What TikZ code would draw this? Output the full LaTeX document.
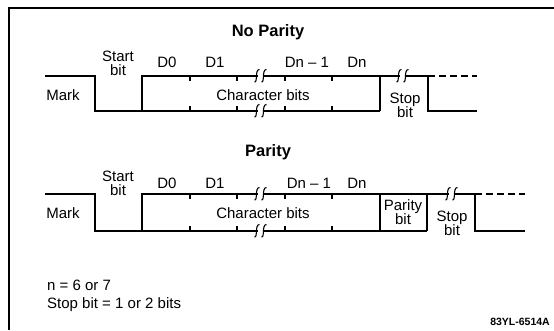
\documentclass[tikz,border=0pt]{standalone}
\usepackage{fontspec}
\setmainfont{Liberation Sans}
\begin{document}
\begin{tikzpicture}[x=1pt,y=-1pt,
  wave/.style={line width=2.1pt},
  tickln/.style={line width=1.2pt},
  frameln/.style={line width=1.5pt},
  lbl/.style={font=\fontsize{15}{15}\selectfont, inner sep=0pt, align=center},
  ttl/.style={font=\fontsize{16.5}{17}\selectfont\bfseries, inner sep=0pt},
  code/.style={font=\fontsize{10.5}{11}\selectfont\bfseries, inner sep=0pt},
  brk/.pic={
    \fill[white] (-3.2,-2.8) rectangle (3.2,2.8);
    \draw[line width=1.1pt] (-6.5,6) .. controls (-3,6.5) and (-6.5,-6.5) .. (-1.5,-6.5);
    \draw[line width=1.1pt] (0.5,6) .. controls (4,6.5) and (0.5,-6.5) .. (5.5,-6.5);
  }]
\useasboundingbox (0,0) rectangle (554,330);
% frame
\draw[frameln] (9,330) -- (9,8) -- (554,8);

% ---------------- No Parity ----------------
\node[ttl] (t1) at (268,32) {No Parity};
\draw[wave] (45,76) -- (95,76) -- (95,111) -- (380,111);
\draw[wave] (142,111) -- (142,76) -- (428,76) -- (428,111) -- (477,111);
\draw[wave] (380,76) -- (380,111);
\draw[wave, dash pattern=on 7pt off 4pt] (428,76) -- (477,76);
\foreach \x in {190,237,285,332}{
  \draw[tickln] (\x,75) -- (\x,81);
  \draw[tickln] (\x,106) -- (\x,112);
}
\pic at (261,76) {brk};
\pic at (261,111) {brk};
\pic at (403,76) {brk};
\node[lbl] (s1) at (118,63) {Start\\[-1pt]bit};
\node[lbl] (d01) at (167,62) {D0};
\node[lbl] (d11) at (215,62) {D1};
\node[lbl] (dm1) at (307,62) {Dn – 1};
\node[lbl] (dn1) at (357,62) {Dn};
\node[lbl] (m1) at (63,95) {Mark};
\node[lbl] (c1) at (263,95) {Character bits};
\node[lbl] (st1) at (405,105) {Stop\\[-1pt]bit};

% ---------------- Parity ----------------
\node[ttl] (t2) at (268,152) {Parity};
\draw[wave] (45,194) -- (95,194) -- (95,231) -- (427,231);
\draw[wave] (142,231) -- (142,194) -- (475,194) -- (475,231) -- (525,231);
\draw[wave] (380,194) -- (380,231);
\draw[wave] (427,194) -- (427,231);
\draw[wave, dash pattern=on 7pt off 4pt] (475,194) -- (525,194);
\foreach \x in {190,237,285,332}{
  \draw[tickln] (\x,193) -- (\x,199);
  \draw[tickln] (\x,226) -- (\x,232);
}
\pic at (261,194) {brk};
\pic at (261,231) {brk};
\pic at (452,194) {brk};
\node[lbl] (s2) at (118,183) {Start\\[-1pt]bit};
\node[lbl] (d02) at (167,183) {D0};
\node[lbl] (d12) at (215,183) {D1};
\node[lbl] (dm2) at (309,183) {Dn – 1};
\node[lbl] (dn2) at (357,183) {Dn};
\node[lbl] (m2) at (63,213) {Mark};
\node[lbl] (c2) at (263,213) {Character bits};
\node[lbl] (p2) at (403,212) {Parity\\[-1pt]bit};
\node[lbl] (st2) at (452,223) {Stop\\[-1pt]bit};

% ---------------- notes ----------------
\node[lbl, anchor=west] (n1) at (47,285) {n = 6 or 7};
\node[lbl, anchor=west] (n2) at (47,305) {Stop bit = 1 or 2 bits};
\node[code, anchor=east] (cd) at (550,322) {83YL-6514A};
\end{tikzpicture}
\end{document}
